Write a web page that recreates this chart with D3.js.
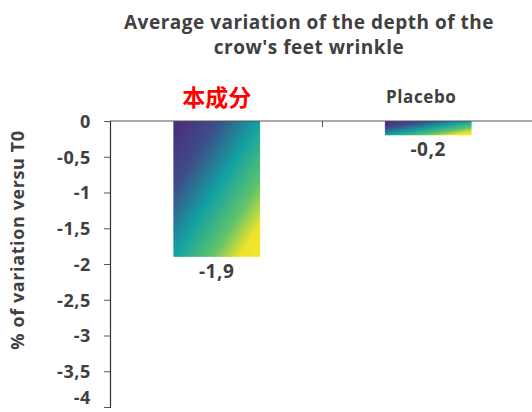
<!DOCTYPE html>
<html>
<head>
<meta charset="utf-8">
<script src="https://cdn.jsdelivr.net/npm/d3@7"></script>
<style>
  body { margin: 0; background: #fff; }
  svg { display: block; font-family: 'Open Sans', 'Noto Sans', sans-serif; }
  .tickLabel, .valueLabel, .catLabel, .axisTitle, .title { fill: #404040; font-weight: 700; }
</style>
</head>
<body>
<div id="chart"></div>
<script>
let categories = ['本成分', 'Placebo'],
    values = [-1.9, -0.2],
    valueLabels = ['-1,9', '-0,2'],
    yTicks = [0, -0.5, -1, -1.5, -2, -2.5, -3, -3.5, -4],
    yTickLabels = ['0', '-0,5', '-1', '-1,5', '-2', '-2,5', '-3', '-3,5', '-4'],
    titleLines = ['Average variation of the depth of the', "crow's feet wrinkle"],
    yTitle = '% of variation versu T0';

let width = 532, height = 412,
    margin = {top: 121, left: 110, right: -2, bottom: 5};

let svg = d3.select('#chart').append('svg')
    .attr('width', width)
    .attr('height', height);

// Diagonal gradient for bars
let grad = svg.append('defs').append('linearGradient')
    .attr('id', 'barGrad')
    .attr('x1', 0).attr('y1', 0).attr('x2', 1).attr('y2', 1);
[[0, '#4a2a78'], [0.25, '#3e4c88'], [0.5, '#12a2a2'], [0.72, '#5fc36c'], [0.88, '#eee32b'], [1, '#f5e72a']]
    .forEach(s => grad.append('stop').attr('offset', s[0]).attr('stop-color', s[1]));

let x = d3.scaleBand()
    .domain(categories)
    .range([margin.left + 1, width - margin.right])
    .paddingInner(0.59)
    .paddingOuter(0.295);

let y = d3.scaleLinear()
    .domain([0, -4])
    .range([margin.top, height - margin.bottom]);

// Bars
svg.append('g')
    .selectAll('rect')
    .data(values)
    .enter().append('rect')
    .attr('x', (d, i) => x(categories[i]))
    .attr('y', y(0))
    .attr('width', x.bandwidth())
    .attr('height', d => y(d) - y(0))
    .attr('fill', 'url(#barGrad)');

// Y axis
let yAxis = svg.append('g')
    .attr('transform', 'translate(' + margin.left + ',0)')
    .call(d3.axisLeft(y).tickValues(yTicks).tickSize(6).tickFormat((d, i) => yTickLabels[i]));
yAxis.select('.domain').attr('stroke', '#333').attr('stroke-width', 1.2);
yAxis.selectAll('.tick line').attr('stroke', '#555');
yAxis.selectAll('.tick text')
    .attr('class', 'tickLabel')
    .attr('x', -19)
    .attr('dy', (d, i) => i === yTicks.length - 1 ? '-0.2em' : '0.36em')
    .style('font-size', '18px')
    .style('letter-spacing', '0.6px')
    .style('font-family', "'Open Sans', sans-serif");

// X axis along zero, ticks between categories
let bandStep = x.step();
let boundaries = categories.map(c => x(c) + x.bandwidth() + (bandStep - x.bandwidth()) / 2);
let xAxisG = svg.append('g');
xAxisG.append('line')
    .attr('x1', margin.left).attr('x2', width)
    .attr('y1', y(0)).attr('y2', y(0))
    .attr('stroke', '#555').attr('stroke-width', 1.2);
xAxisG.selectAll('.sep')
    .data(boundaries)
    .enter().append('line')
    .attr('x1', d => d).attr('x2', d => d)
    .attr('y1', y(0)).attr('y2', y(0) + 6)
    .attr('stroke', '#555');

// Category labels above the axis
svg.append('g')
    .selectAll('text')
    .data(categories)
    .enter().append('text')
    .attr('class', 'catLabel')
    .attr('x', d => x(d) + x.bandwidth() / 2 - (d === 'Placebo' ? 7 : 0))
    .attr('y', (d, i) => i === 0 ? 106 : 103)
    .attr('text-anchor', 'middle')
    .style('font-size', (d, i) => i === 0 ? '23px' : '17px')
    .style('letter-spacing', (d, i) => i === 0 ? '0px' : '0.6px')
    .style('font-family', (d, i) => i === 0 ? "'Noto Sans CJK SC', sans-serif" : "'Open Sans', sans-serif")
    .style('fill', (d, i) => i === 0 ? '#ff0000' : null)
    .text(d => d);

// Value labels below bars
svg.append('g')
    .selectAll('text')
    .data(values)
    .enter().append('text')
    .attr('class', 'valueLabel')
    .attr('x', (d, i) => x(categories[i]) + x.bandwidth() / 2)
    .attr('y', d => y(d) + 21)
    .attr('text-anchor', 'middle')
    .style('font-size', '19px')
    .style('letter-spacing', '0.6px')
    .text((d, i) => valueLabels[i]);

// Title
svg.append('text')
    .attr('class', 'title')
    .attr('text-anchor', 'middle')
    .style('font-size', '19px')
    .style('letter-spacing', '0.5px')
    .selectAll('tspan')
    .data(titleLines)
    .enter().append('tspan')
    .attr('x', 309)
    .attr('y', (d, i) => 29 + i * 25)
    .text(d => d);

// Y axis title
svg.append('text')
    .attr('class', 'axisTitle')
    .attr('transform', 'translate(24,' + 240 + ') rotate(-90)')
    .attr('text-anchor', 'middle')
    .style('font-size', '18px')
    .style('letter-spacing', '0.6px')
    .text(yTitle);
</script>
</body>
</html>
